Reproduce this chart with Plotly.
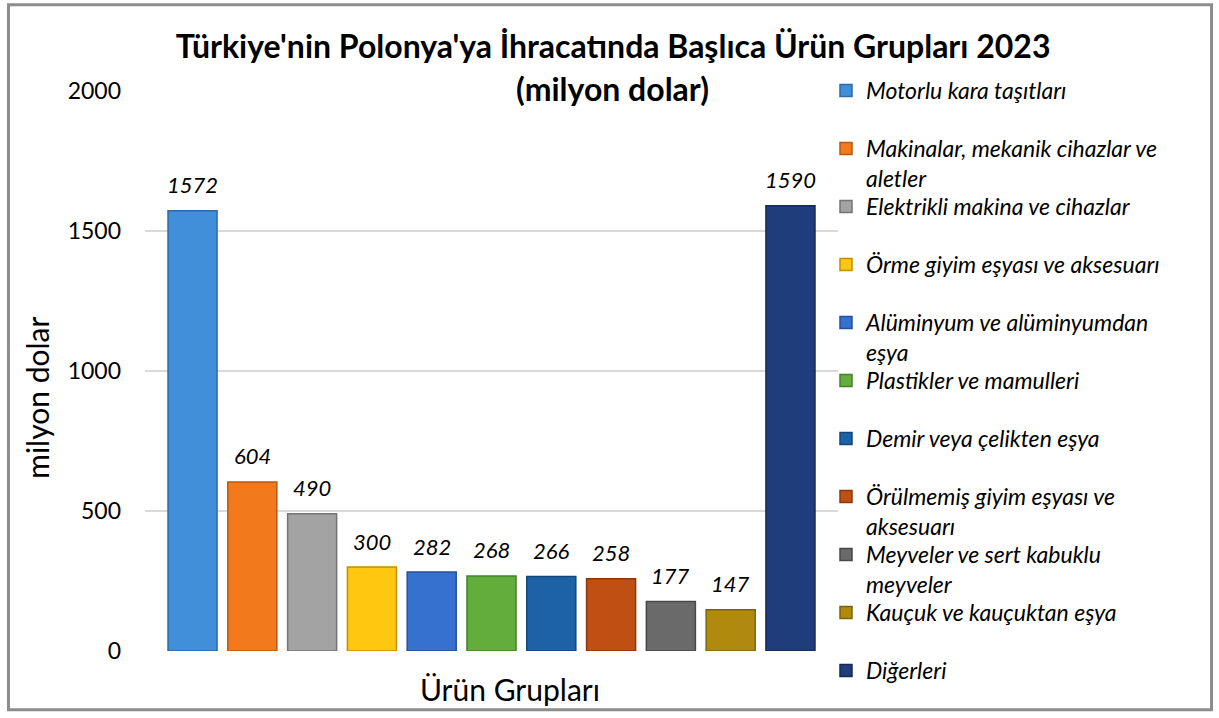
import plotly.graph_objects as go

# product groups (legend order) and 2023 export values, million USD
groups = [
    "Motorlu kara taşıtları",
    "Makinalar, mekanik cihazlar ve<br>aletler",
    "Elektrikli makina ve cihazlar",
    "Örme giyim eşyası ve aksesuarı",
    "Alüminyum ve alüminyumdan<br>eşya",
    "Plastikler ve mamulleri",
    "Demir veya çelikten eşya",
    "Örülmemiş giyim eşyası ve<br>aksesuarı",
    "Meyveler ve sert kabuklu<br>meyveler",
    "Kauçuk ve kauçuktan eşya",
    "Diğerleri",
]
values = [1572, 604, 490, 300, 282, 268, 266, 258, 177, 147, 1590]
colors = [
    "#418fd9", "#f27a1c", "#a3a3a3", "#ffc70f", "#3671cf", "#62ad3b",
    "#1d62a6", "#bf4f12", "#6a6a6a", "#b08a0e", "#1f3d7a",
]
edges = [
    "#2c6aa8", "#b95712", "#747474", "#c09000", "#24519a", "#44812a",
    "#13467a", "#8a380c", "#484848", "#7d6208", "#142a57",
]

FONT = "Lato"
H = 718

fig = go.Figure()
legends = {}
for i, (name, val) in enumerate(zip(groups, values)):
    key = "legend" if i == 0 else f"legend{i + 1}"
    fig.add_trace(
        go.Bar(
            x=[i],
            y=[val],
            name=name,
            legend=key,
            width=0.82,
            marker={"color": colors[i], "line": {"color": edges[i], "width": 1.5}},
        )
    )
    fig.add_annotation(
        x=i,
        y=val,
        text=str(val),
        showarrow=False,
        yshift=26,
        font={"family": FONT, "size": 22, "color": "#000000", "style": "italic"},
    )
    # one legend box per entry so the entries keep an even spacing
    legends[key] = {
        "xref": "container", "yref": "container",
        "x": 826 / 1219, "xanchor": "left",
        "y": 1 - (69 + 58 * i) / H, "yanchor": "top",
        "valign": "top",
        "font": {"family": FONT, "size": 23, "color": "#000000", "style": "italic"},
        "bgcolor": "rgba(0,0,0,0)",
    }

fig.add_annotation(
    text="<b>(milyon dolar)</b>",
    xref="paper", yref="paper",
    x=0.675, y=1.005, xanchor="center", yanchor="middle",
    showarrow=False,
    font={"family": FONT, "size": 32, "color": "#000000"},
)
fig.add_annotation(
    text="Ürün Grupları",
    xref="paper", yref="paper",
    x=0.526, y=-0.068, xanchor="center", yanchor="middle",
    showarrow=False,
    font={"family": FONT, "size": 30, "color": "#000000"},
)
fig.add_annotation(
    text="milyon dolar",
    xref="paper", yref="paper",
    x=-0.156, y=0.452, xanchor="center", yanchor="middle",
    textangle=-90,
    showarrow=False,
    font={"family": FONT, "size": 30, "color": "#000000"},
)

# outer chart frame
fig.add_shape(
    type="rect", xref="paper", yref="paper",
    x0=-0.197, x1=1.539, y0=-0.105, y1=1.154,
    line={"color": "#8c8c8c", "width": 3},
    layer="below",
)

fig.update_layout(
    width=1219,
    height=H,
    margin={"l": 145, "r": 381, "t": 91, "b": 67, "autoexpand": False},
    paper_bgcolor="white",
    plot_bgcolor="white",
    font={"family": FONT, "color": "#000000"},
    title={
        "text": "<b>Türkiye'nin Polonya'ya İhracatında Başlıca Ürün Grupları 2023</b>",
        "x": 0.503, "xanchor": "center",
        "y": 1 - 47 / H, "yanchor": "middle",
        "font": {"family": FONT, "size": 32, "color": "#000000"},
    },
    showlegend=True,
    **legends,
)
fig.update_xaxes(
    range=[-0.795, 10.795],
    showticklabels=False,
    showgrid=False,
    zeroline=False,
)
fig.update_yaxes(
    range=[0, 2000],
    dtick=500,
    showgrid=True,
    gridcolor="#d9d9d9",
    gridwidth=2,
    zeroline=False,
    showline=False,
    ticks="",
    ticklabelstandoff=23,
    tickfont={"family": FONT, "size": 23, "color": "#000000"},
)

fig.write_html(
    "out.html",
    config={"displayModeBar": False},
    post_script="document.body.style.margin='0px';",
)
